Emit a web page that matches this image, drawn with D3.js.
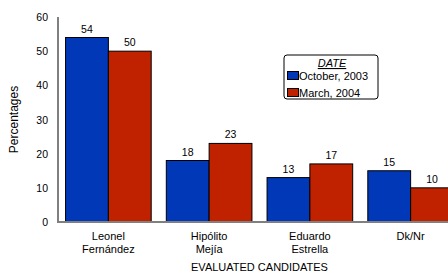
<!DOCTYPE html>
<html lang="en">
<head>
  <meta charset="UTF-8">
  <title>Evaluated candidates</title>
  <script src="https://d3js.org/d3.v7.min.js"></script>
  <style>
    body { margin: 0; background: #fff; }
    text { font-family: "Liberation Sans", Arial, sans-serif; fill: #000; }
  </style>
</head>
<body>
  <div id="chart"></div>
  <script>
    // candidates on the x axis (second line of label after the "|")
    const candidates = ["Leonel|Fernández", "Hipólito|Mejía", "Eduardo|Estrella", "Dk/Nr"];
    const seriesNames = ["October, 2003", "March, 2004"];
    const oct2003 = [54, 18, 13, 15];
    const mar2004 = [50, 23, 17, 10];
    const yTicks = [0, 10, 20, 30, 40, 50, 60];

    const width = 448, height = 272;
    const colors = ["#0038b8", "#c02200"];

    const svg = d3.select("#chart")
      .append("svg")
      .attr("width", width)
      .attr("height", height);

    const x = d3.scaleBand()
      .domain(candidates)
      .range([58, 461])
      .paddingInner(0.15)
      .paddingOuter(0.075);

    const x1 = d3.scaleBand()
      .domain([0, 1])
      .range([0, x.bandwidth()]);

    const y = d3.scaleLinear()
      .domain([0, 60])
      .range([222, 17]);

    // y axis line + tick labels
    svg.append("line")
      .attr("x1", 58).attr("x2", 58)
      .attr("y1", y(60)).attr("y2", y(0))
      .attr("stroke", "#808080")
      .attr("stroke-width", 2);

    svg.selectAll(".ytick")
      .data(yTicks)
      .enter()
      .append("text")
      .attr("class", "ytick")
      .attr("x", 48)
      .attr("y", d => y(d) + 4)
      .attr("text-anchor", "end")
      .attr("font-size", 10.5)
      .text(d => d);

    svg.append("text")
      .attr("transform", `translate(17.5,${(y(0) + y(60)) / 2}) rotate(-90)`)
      .attr("text-anchor", "middle")
      .attr("font-size", 12)
      .text("Percentages");

    // bars
    const series = [oct2003, mar2004];
    const groups = svg.selectAll(".grp")
      .data(candidates)
      .enter()
      .append("g")
      .attr("class", "grp")
      .attr("transform", d => `translate(${x(d)},0)`);

    series.forEach((vals, s) => {
      groups.append("rect")
        .attr("x", x1(s))
        .attr("y", (d, i) => y(vals[i]))
        .attr("width", x1.bandwidth())
        .attr("height", (d, i) => y(0) - y(vals[i]))
        .attr("fill", colors[s])
        .attr("stroke", "#000")
        .attr("stroke-width", 1);

      groups.append("text")
        .attr("x", x1(s) + x1.bandwidth() / 2)
        .attr("y", (d, i) => y(vals[i]) - 5)
        .attr("text-anchor", "middle")
        .attr("font-size", 10.5)
        .text((d, i) => vals[i]);
    });

    // baseline on top of bars
    svg.append("line")
      .attr("x1", 57).attr("x2", width)
      .attr("y1", y(0)).attr("y2", y(0))
      .attr("stroke", "#808080")
      .attr("stroke-width", 2);

    // category labels
    groups.each(function (d) {
      const lines = d.split("|");
      lines.forEach((ln, k) => {
        d3.select(this).append("text")
          .attr("x", x.bandwidth() / 2)
          .attr("y", 240 + k * 13)
          .attr("text-anchor", "middle")
          .attr("font-size", 11)
          .text(ln);
      });
    });

    svg.append("text")
      .attr("x", (58 + 461) / 2)
      .attr("y", 270.5)
      .attr("text-anchor", "middle")
      .attr("font-size", 11)
      .text("EVALUATED CANDIDATES");

    // legend
    const lg = svg.append("g").attr("transform", "translate(284,55)");
    lg.append("rect")
      .attr("width", 94).attr("height", 44)
      .attr("rx", 3)
      .attr("fill", "#fff")
      .attr("stroke", "#000")
      .attr("stroke-width", 1);
    lg.append("text")
      .attr("x", 48).attr("y", 12)
      .attr("text-anchor", "middle")
      .attr("font-size", 11)
      .attr("font-style", "italic")
      .attr("text-decoration", "underline")
      .text("DATE");
    seriesNames.forEach((nm, s) => {
      lg.append("rect")
        .attr("x", 3.5).attr("y", 16.5 + s * 17)
        .attr("width", 11).attr("height", 8)
        .attr("fill", colors[s])
        .attr("stroke", "#000")
        .attr("stroke-width", 1);
      lg.append("text")
        .attr("x", 15).attr("y", 24.5 + s * 17)
        .attr("font-size", 11)
        .text(nm);
    });
  </script>
</body>
</html>
